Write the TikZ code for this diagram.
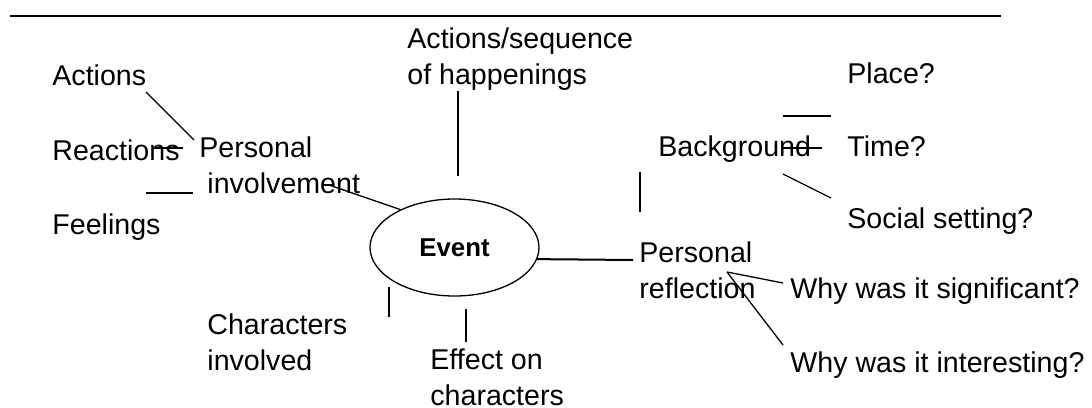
\documentclass[tikz,border=0pt]{standalone}
\usepackage{fontspec}
\setmainfont{Liberation Sans}
\usetikzlibrary{shapes.geometric}
\tikzset{
  lbl/.style={anchor=base west, inner sep=0pt, align=left, font=\fontsize{14.3pt}{17.75pt}\selectfont},
  ln/.style={line width=0.65pt},
  heavy/.style={line width=1pt},
}
\begin{document}
\begin{tikzpicture}[x=0.5pt, y=-0.5pt]
        \useasboundingbox (0, 0) rectangle (1092, 407);

        \draw (454.5, 247.5) node[draw, ellipse, line width=0.65pt, minimum width=84.5pt, minimum height=48.5pt, inner sep=0pt, font=\bfseries\fontsize{12.9pt}{15pt}\selectfont] (ev) {Event};

        % two-line labels sit on the baseline of their last line
        \draw (407, 84) node[lbl] (acts) {Actions/sequence\\of happenings};
        \draw (52, 85) node[lbl] (actions) {Actions};
        \draw (52, 160) node[lbl] (reactions) {Reactions};
        \draw (199, 193) node[lbl] (persinv) {Personal\\\hspace*{4pt}involvement};
        \draw (52, 234) node[lbl] (feelings) {Feelings};
        \draw (847, 83) node[lbl] (place) {Place?};
        \draw (658, 156) node[lbl] (bg) {Background};
        \draw (847, 156) node[lbl] (time) {Time?};
        \draw (847, 228) node[lbl] (social) {Social setting?};
        \draw (639, 298) node[lbl] (persref) {Personal\\reflection};
        \draw (790, 298) node[lbl] (signif) {Why was it significant?};
        \draw (790, 372) node[lbl] (interest) {Why was it interesting?};
        \draw (207, 370) node[lbl] (chars) {Characters\\involved};
        \draw (430, 405) node[lbl] (effect) {Effect on\\characters};

        \coordinate (rule-l) at (10, 16);
        \coordinate (rule-r) at (1001, 16);
        \coordinate (actions-a) at (146, 92);
        \coordinate (actions-b) at (194, 140);
        \coordinate (reactions-a) at (152, 148);
        \coordinate (reactions-b) at (183, 148);
        \coordinate (feelings-a) at (146, 193);
        \coordinate (feelings-b) at (193, 193);
        \coordinate (persinv-a) at (329, 185);
        \coordinate (acts-a) at (458, 91);
        \coordinate (acts-b) at (458, 176);
        \coordinate (bg-a) at (640, 172);
        \coordinate (bg-b) at (640, 212);
        \coordinate (place-a) at (783, 116);
        \coordinate (place-b) at (831, 116);
        \coordinate (time-a) at (783, 148);
        \coordinate (time-b) at (822, 148);
        \coordinate (social-a) at (783, 174);
        \coordinate (social-b) at (831, 198);
        \coordinate (persref-a) at (633, 260);
        \coordinate (persref-b) at (727, 272);
        \coordinate (signif-a) at (783, 283);
        \coordinate (interest-a) at (783, 345);
        \coordinate (chars-a) at (389, 287);
        \coordinate (chars-b) at (389, 317);
        \coordinate (effect-a) at (466, 309);
        \coordinate (effect-b) at (466, 342);

        \draw[heavy] (rule-l) -- (rule-r);

        \draw[ln] (actions-a) -- (actions-b);
        \draw[ln] (reactions-a) -- (reactions-b);
        \draw[ln] (feelings-a) -- (feelings-b);
        \draw[ln] (persinv-a) -- (ev.145);
        \draw[ln] (acts-a) -- (acts-b);
        \draw[ln] (bg-a) -- (bg-b);
        \draw[ln] (place-a) -- (place-b);
        \draw[ln] (time-a) -- (time-b);
        \draw[ln] (social-a) -- (social-b);
        \draw[heavy] (ev.-8) -- (persref-a);
        \draw[ln] (persref-b) -- (signif-a);
        \draw[ln] (persref-b) -- (interest-a);
        \draw[ln] (chars-a) -- (chars-b);
        \draw[ln] (effect-a) -- (effect-b);
    \end{tikzpicture}
\end{document}
